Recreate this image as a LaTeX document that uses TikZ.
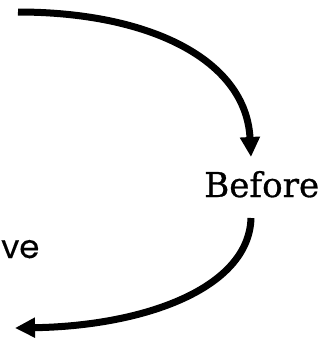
\documentclass[tikz,border=0pt]{standalone}
\usepackage{fontspec}
\usetikzlibrary{arrows.meta}
\newfontfamily\slabfont[FakeBold=0.8]{DejaVu Serif}
\newfontfamily\geofont[FakeBold=0.4]{Poppins}
\tikzset{
  flow/.style={line width=7pt, -{Triangle[length=20pt,width=19pt]}},
  lbl/.style={inner sep=0pt, anchor=base}
}
\begin{document}
\begin{tikzpicture}[x=1pt,y=-1pt]
\useasboundingbox (0,0) rectangle (321,341);
\node[lbl, anchor=base west] (before) at (204,197) {\resizebox{115pt}{!}{\slabfont Before}};
\node[lbl, anchor=base west] (ve) at (1,258) {\resizebox{!}{18pt}{\geofont ve}};
\coordinate (s1) at (18,12);
\coordinate (e1) at (251,157);
\coordinate (s2) at (251,218);
\coordinate (e2) at (15,328);
\draw[flow] (s1) .. controls (150,12) and (246,60) .. (e1);
\draw[flow] (s2) .. controls (249,288) and (145,326) .. (e2);
\end{tikzpicture}
\end{document}
